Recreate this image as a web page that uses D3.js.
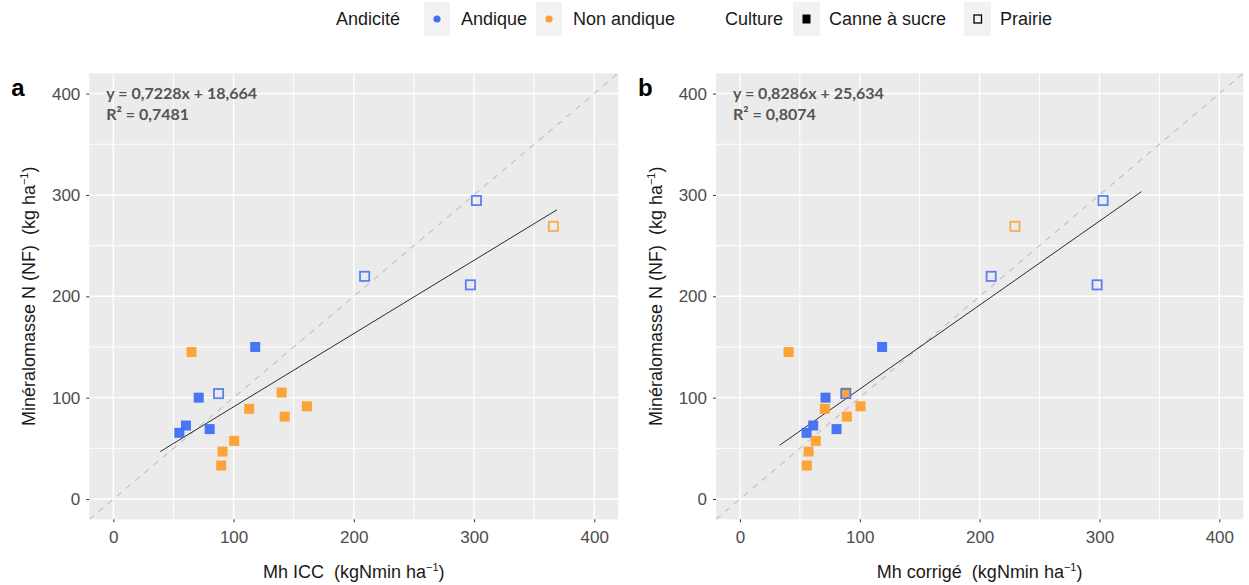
<!DOCTYPE html>
<html><head><meta charset="utf-8">
<script src="https://cdn.jsdelivr.net/npm/d3@7"></script>
<style>body{margin:0;background:#fff}svg{display:block}</style>
</head><body><svg id="c" width="1249" height="585"></svg>
<script>
// ---- data ----
const nf      = [145, 150, 100, 104, 105, 89, 91.5, 81.3, 72.5, 69, 65.3, 57.4, 46.8, 33, 294.5, 269, 219.7, 211.3];
const mhICC   = [65, 118, 71, 87.5, 140, 113, 161, 142.5, 60.4, 80.1, 54.9, 100.5, 90.8, 89.7, 302, 366, 209, 297];
const mhCorr  = [40.6, 118.6, 71.4, 88.3, 88.3, 70.8, 100.6, 89.2, 61.1, 80.6, 55.6, 63.3, 57.3, 55.8, 303, 229.4, 209.6, 298];
const andic   = ["Non andique","Andique","Andique","Andique","Non andique","Non andique","Non andique","Non andique","Andique","Andique","Andique","Non andique","Non andique","Non andique","Andique","Non andique","Andique","Andique"];
const culture = ["Canne","Canne","Canne","Prairie","Canne","Canne","Canne","Canne","Canne","Canne","Canne","Canne","Canne","Canne","Prairie","Prairie","Prairie","Prairie"];
const ticks   = [0, 100, 200, 300, 400];
const minorTicks = [50, 150, 250, 350];
const eqA = {slope: 0.7228, intercept: 18.664, r2: "0,7481", text: "y = 0,7228x + 18,664", range: [39, 369]};
const eqB = {slope: 0.8286, intercept: 25.634, r2: "0,8074", text: "y = 0,8286x + 25,634", range: [33, 335]};
const panelLetters = ["a", "b"];
const xTitles = ["Mh ICC\u00A0\u00A0(kgNmin ha", "Mh corrigé\u00A0\u00A0(kgNmin ha"];
const yTitle = "Minéralomasse N (NF)\u00A0\u00A0(kg ha";
const legendAndic = ["Andique", "Non andique"];
const legendCult = ["Canne à sucre", "Prairie"];

const colors = {"Andique": "#3F6FF6", "Non andique": "#FE9F2E"};
const svg = d3.select("#c");
const font = "'Liberation Sans', Arial, sans-serif";

function panel(px0, px1, xs, eq, letter, xt) {
  const x = d3.scaleLinear().domain([-20, 420]).range([px0, px1]);
  const y = d3.scaleLinear().domain([-20, 420]).range([519.3, 73.3]);
  const g = svg.append("g");
  const id = "clip" + letter;
  g.append("clipPath").attr("id", id).append("rect")
    .attr("x", px0).attr("y", 73.3).attr("width", px1 - px0).attr("height", 446);
  g.append("rect").attr("x", px0).attr("y", 73.3).attr("width", px1 - px0).attr("height", 446).attr("fill", "#EBEBEB");
  // grids
  g.selectAll(".vm").data(minorTicks).join("line").attr("x1", d => x(d)).attr("x2", d => x(d))
    .attr("y1", 73.3).attr("y2", 519.3).attr("stroke", "#fff").attr("stroke-width", 1);
  g.selectAll(".hm").data(minorTicks).join("line").attr("y1", d => y(d)).attr("y2", d => y(d))
    .attr("x1", px0).attr("x2", px1).attr("stroke", "#fff").attr("stroke-width", 1);
  g.selectAll(".vM").data(ticks).join("line").attr("x1", d => x(d)).attr("x2", d => x(d))
    .attr("y1", 73.3).attr("y2", 519.3).attr("stroke", "#fff").attr("stroke-width", 1.4);
  g.selectAll(".hM").data(ticks).join("line").attr("y1", d => y(d)).attr("y2", d => y(d))
    .attr("x1", px0).attr("x2", px1).attr("stroke", "#fff").attr("stroke-width", 1.4);
  // 1:1 line
  g.append("line").attr("clip-path", `url(#${id})`)
    .attr("x1", x(-20)).attr("y1", y(-20)).attr("x2", x(420)).attr("y2", y(420))
    .attr("stroke", "#C4C4C4").attr("stroke-width", 1.2).attr("stroke-dasharray", "6,6");
  // regression
  g.append("line")
    .attr("x1", x(eq.range[0])).attr("y1", y(eq.slope * eq.range[0] + eq.intercept))
    .attr("x2", x(eq.range[1])).attr("y2", y(eq.slope * eq.range[1] + eq.intercept))
    .attr("stroke", "#2b2b2b").attr("stroke-width", 1);
  // points
  const idx = d3.range(nf.length);
  const s = 10;
  idx.filter(i => culture[i] !== "Prairie").forEach(i => {
    g.append("rect").attr("x", x(xs[i]) - s/2).attr("y", y(nf[i]) - s/2)
      .attr("width", s).attr("height", s).attr("fill", colors[andic[i]]).attr("fill-opacity", 0.95);
  });
  const so = 11;
  idx.filter(i => culture[i] === "Prairie").forEach(i => {
    g.append("rect").attr("x", x(xs[i]) - so/2 + 0.9).attr("y", y(nf[i]) - so/2 + 0.9)
      .attr("width", so - 1.8).attr("height", so - 1.8).attr("fill", "none")
      .attr("stroke", colors[andic[i]]).attr("stroke-opacity", 0.85).attr("stroke-width", 1.8);
  });
  // axes
  const ax = d3.axisBottom(x).tickValues(ticks).tickSize(3).tickPadding(6);
  const gx = g.append("g").attr("transform", "translate(0,519.3)").call(ax);
  gx.select(".domain").remove();
  gx.selectAll("line").attr("stroke", "#333");
  gx.selectAll("text").attr("font-family", font).attr("font-size", 17).attr("fill", "#4D4D4D").attr("dy", "0.85em");
  const ay = d3.axisLeft(y).tickValues(ticks).tickSize(3).tickPadding(6);
  const gy = g.append("g").attr("transform", `translate(${px0},0)`).call(ay);
  gy.select(".domain").remove();
  gy.selectAll("line").attr("stroke", "#333");
  gy.selectAll("text").attr("font-family", font).attr("font-size", 17).attr("fill", "#4D4D4D");
  // titles
  const tx = g.append("text").attr("x", (px0 + px1) / 2).attr("y", 578).attr("text-anchor", "middle")
    .attr("font-family", font).attr("font-size", 18).attr("fill", "#1a1a1a");
  tx.append("tspan").text(xt);
  tx.append("tspan").attr("dy", -7).attr("font-size", 11).text("−1");
  tx.append("tspan").attr("dy", 7).text(")");
  const ty = g.append("text").attr("transform", `translate(${px0 - 54},296.3) rotate(-90)`).attr("text-anchor", "middle")
    .attr("font-family", font).attr("font-size", 18).attr("fill", "#1a1a1a");
  ty.append("tspan").text(yTitle);
  ty.append("tspan").attr("dy", -7).attr("font-size", 11).text("−1");
  ty.append("tspan").attr("dy", 7).text(")");
  // letter
  g.append("text").attr("x", px0 - 78).attr("y", 96).attr("font-family", font).attr("font-weight", "bold")
    .attr("font-size", 24).attr("fill", "#000").text(letter);
  // equation
  g.append("text").attr("x", px0 + 17).attr("y", 99).attr("font-family", "Lato, sans-serif").attr("font-weight", "bold")
    .attr("font-size", 16).attr("fill", "#555").text(eq.text);
  const r = g.append("text").attr("x", px0 + 17).attr("y", 119.5).attr("font-family", "Lato, sans-serif").attr("font-weight", "bold")
    .attr("font-size", 16).attr("fill", "#555");
  r.append("tspan").text("R² = " + eq.r2);
}

panel(89.3, 618.3, mhICC, eqA, panelLetters[0], xTitles[0]);
panel(716, 1243.3, mhCorr, eqB, panelLetters[1], xTitles[1]);

// legend
const lg = svg.append("g").attr("font-family", font).attr("font-size", 18).attr("fill", "#1a1a1a");
lg.append("text").attr("x", 336).attr("y", 25).text("Andicité");
const andX = [424, 536];
legendAndic.forEach((t, i) => {
  lg.append("rect").attr("x", andX[i]).attr("y", 2).attr("width", 26).attr("height", 34).attr("fill", "#F2F2F2");
  lg.append("circle").attr("cx", andX[i] + 13).attr("cy", 19).attr("r", 3.6).attr("fill", colors[t]);
  lg.append("text").attr("x", andX[i] + 37).attr("y", 25).text(t);
});
lg.append("text").attr("x", 725).attr("y", 25).text("Culture");
const cuX = [793, 964];
legendCult.forEach((t, i) => {
  lg.append("rect").attr("x", cuX[i]).attr("y", 2).attr("width", 27).attr("height", 34).attr("fill", "#F2F2F2");
  if (i === 0) lg.append("rect").attr("x", cuX[i] + 9.5).attr("y", 14.5).attr("width", 8).attr("height", 9).attr("fill", "#000");
  else lg.append("rect").attr("x", cuX[i] + 10).attr("y", 15).attr("width", 7.5).attr("height", 8).attr("fill", "none").attr("stroke", "#000").attr("stroke-width", 1.3);
  lg.append("text").attr("x", cuX[i] + 36).attr("y", 25).text(t);
});
</script></body></html>
